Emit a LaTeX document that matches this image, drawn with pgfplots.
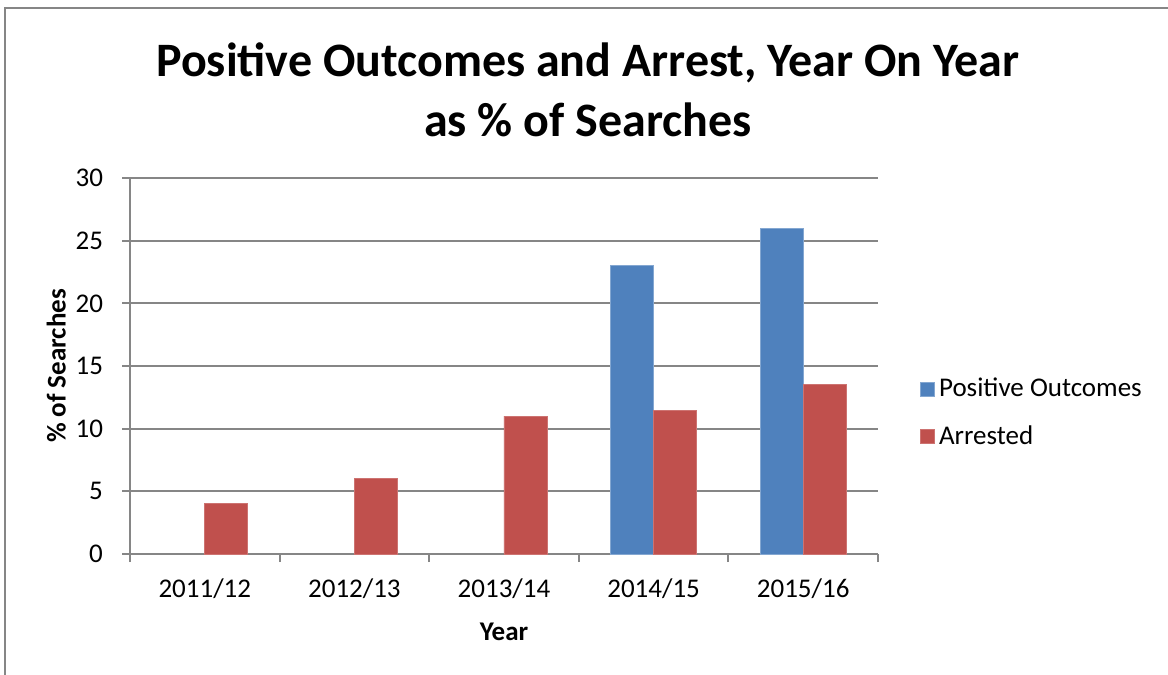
\documentclass[border=0pt]{standalone}
\usepackage{pgfplots}
\pgfplotsset{compat=1.18}
\usepackage{fontspec}
\setmainfont{Carlito}
\definecolor{xlblue}{HTML}{4F81BD}
\definecolor{xlred}{HTML}{C0504D}
\definecolor{xlgrid}{HTML}{868686}

\begin{document}
\begin{tikzpicture}[x=1pt,y=1pt]
\useasboundingbox (0,0) rectangle (584,337.5);
% chart frame (right and bottom edges fall outside the picture)
\draw[xlgrid, line width=1pt] (2.5,0) -- (2.5,333.5) -- (584,333.5);
\node[font=\bfseries\fontsize{24}{30}\selectfont, align=center] at (294,292.5)
  {Positive Outcomes and Arrest, Year On Year\\as \% of Searches};
\begin{axis}[
    at={(65pt,60.5pt)}, anchor=south west,
    scale only axis, width=374pt, height=188pt,
    ybar=0pt, bar width=21.5pt,
    xmin=-0.5, xmax=4.5, ymin=0, ymax=30,
    axis lines*=left,
    axis line style={xlgrid, line width=1pt},
    xtick={0,1,2,3,4},
    xticklabels={2011/12,2012/13,2013/14,2014/15,2015/16},
    major x tick style={draw=none},
    minor xtick={-0.5,0.5,1.5,2.5,3.5,4.5},
    minor x tick style={xlgrid, line width=1pt},
    minor tick length=4pt,
    ytick={0,5,...,30},
    y tick style={xlgrid, line width=1pt},
    major tick length=4pt,
    tick align=outside,
    ymajorgrids,
    grid style={xlgrid, line width=1pt},
    /pgf/number format/assume math mode=true,
    tick label style={font=\fontsize{13.5}{16}\selectfont},
    xticklabel style={yshift=-5pt},
    yticklabel style={xshift=-6pt},
    xlabel={\textbf{Year}},
    ylabel={\textbf{\% of Searches}},
    xlabel style={yshift=-5pt},
    ylabel style={yshift=-2pt},
    label style={font=\fontsize{13.5}{16}\selectfont},
    legend style={at={(1.048,0.375)}, anchor=west, draw=none, fill=none,
      font=\fontsize{13.5}{16}\selectfont, row sep=9pt},
    legend cell align=left,
    legend image code/.code={\fill[#1] (-2pt,-3.5pt) rectangle (5pt,3.5pt);},
]
\addplot[draw=xlblue!70!white, line width=0.4pt, fill=xlblue]
  coordinates {(3,23) (4,26)};
\addplot[draw=xlred!80!white, line width=0.4pt, fill=xlred]
  coordinates {(0,4) (1,6) (2,11) (3,11.45) (4,13.55)};
\legend{Positive Outcomes, Arrested}
\end{axis}
\end{tikzpicture}
\end{document}
